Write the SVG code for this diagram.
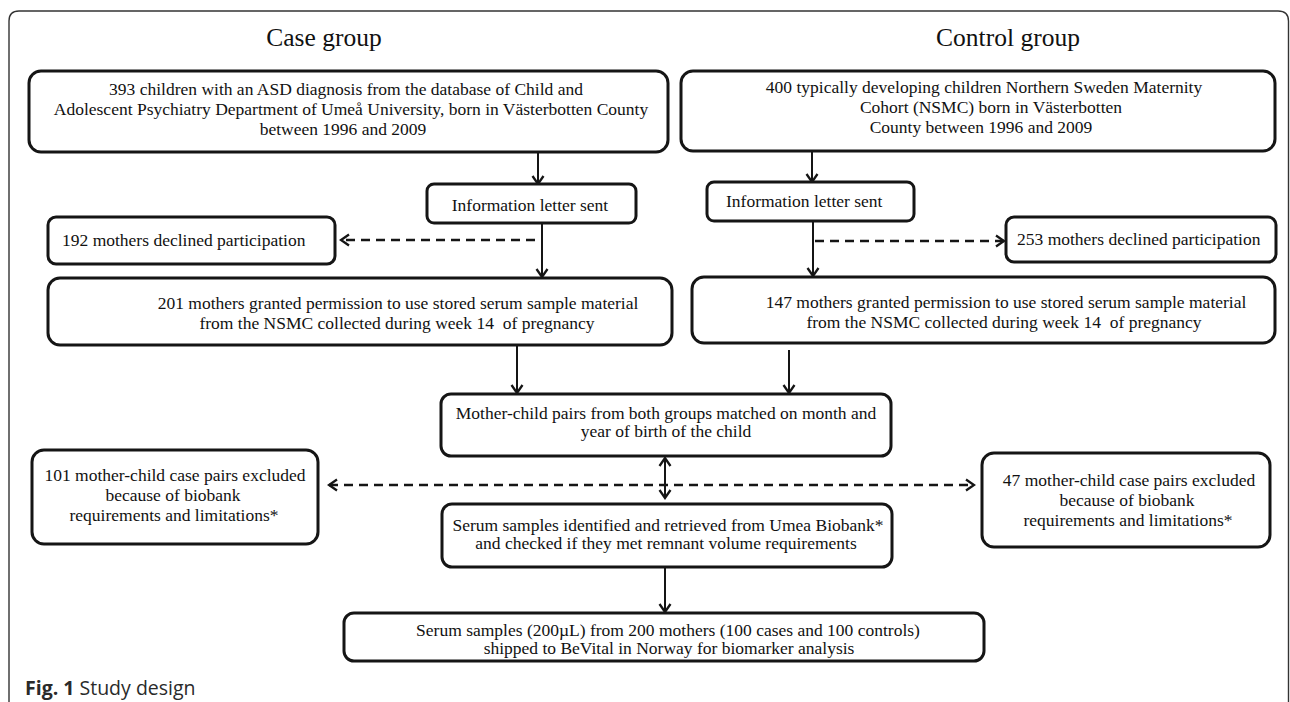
<svg xmlns="http://www.w3.org/2000/svg" width="1290" height="702" viewBox="0 0 1290 702">
<style>
.bx{fill:#fff;stroke:#151515;stroke-width:3}
.t{font-family:"Liberation Serif","Times New Roman",serif;font-size:17.5px;fill:#111}
.c{text-anchor:middle}
.h{font-family:"Liberation Serif","Times New Roman",serif;font-size:25.5px;fill:#111;text-anchor:middle}
.ln{stroke:#151515;stroke-width:2;fill:none}
.ds{stroke:#151515;stroke-width:2.5;fill:none;stroke-dasharray:9 6}
.cap{font-family:"Open Sans","Noto Sans",sans-serif;font-size:19.5px;fill:#2a2a2a}
</style>
<defs>
<marker id="ah" viewBox="-10 -7 12 14" markerWidth="12" markerHeight="14" markerUnits="userSpaceOnUse" orient="auto-start-reverse">
<path d="M-8,-5.5 L0,0 L-8,5.5" fill="none" stroke="#151515" stroke-width="2.3"/>
</marker>
</defs>
<rect width="1290" height="702" fill="#fff"/>
<path d="M9,702 L9,21 Q9,11 19,11 L1278,11 Q1288.5,11 1288.5,21 L1288.5,702" fill="none" stroke="#333" stroke-width="1.4"/>
<g id="titles">
<text class="h" x="324" y="46">Case group</text>
<text class="h" x="1008" y="46">Control group</text>
</g>
<g id="connectors">
<line class="ln" x1="538" y1="152" x2="538" y2="184" marker-end="url(#ah)"/>
<line class="ln" x1="542" y1="224" x2="542" y2="277" marker-end="url(#ah)"/>
<line class="ds" x1="535" y1="240" x2="341" y2="240" marker-end="url(#ah)"/>
<line class="ln" x1="812" y1="151" x2="812" y2="182" marker-end="url(#ah)"/>
<line class="ln" x1="813" y1="222" x2="813" y2="276" marker-end="url(#ah)"/>
<line class="ds" x1="815" y1="241" x2="1004" y2="241" marker-end="url(#ah)"/>
<line class="ln" x1="517" y1="346" x2="517" y2="393" marker-end="url(#ah)"/>
<line class="ln" x1="789" y1="350" x2="789" y2="393" marker-end="url(#ah)"/>
<line class="ds" x1="329" y1="485" x2="974" y2="485" marker-start="url(#ah)" marker-end="url(#ah)"/>
<line class="ln" x1="665" y1="458" x2="665" y2="498" marker-start="url(#ah)" marker-end="url(#ah)"/>
<line class="ln" x1="665" y1="568" x2="665" y2="612" marker-end="url(#ah)"/>
</g>
<g id="case-cohort">
<rect class="bx" x="29" y="71" width="639" height="81" rx="12"/>
<text class="t c" x="346" y="95">393 children with an ASD diagnosis from the database of Child and</text>
<text class="t c" x="351" y="115">Adolescent Psychiatry Department of Umeå University, born in Västerbotten County</text>
<text class="t c" x="343" y="135">between 1996 and 2009</text>
</g>
<g id="control-cohort">
<rect class="bx" x="681" y="71" width="594" height="80" rx="12"/>
<text class="t c" x="984" y="93">400 typically developing children Northern Sweden Maternity</text>
<text class="t c" x="991" y="113">Cohort (NSMC) born in Västerbotten</text>
<text class="t c" x="981" y="133">County between 1996 and 2009</text>
</g>
<g id="case-letter">
<rect class="bx" x="427" y="184" width="209" height="39" rx="7"/>
<text class="t c" x="530" y="211">Information letter sent</text>
</g>
<g id="control-letter">
<rect class="bx" x="707" y="182" width="207" height="39" rx="7"/>
<text class="t" x="726" y="207">Information letter sent</text>
</g>
<g id="case-declined">
<rect class="bx" x="48" y="217" width="287" height="47" rx="8"/>
<text class="t" x="62" y="246">192 mothers declined participation</text>
</g>
<g id="control-declined">
<rect class="bx" x="1006" y="217" width="270" height="45" rx="8"/>
<text class="t" x="1017" y="245">253 mothers declined participation</text>
</g>
<g id="case-granted">
<rect class="bx" x="48" y="278" width="624" height="67" rx="12"/>
<text class="t c" x="398" y="309">201 mothers granted permission to use stored serum sample material</text>
<text class="t c" x="397" y="329">from the NSMC collected during week 14&#160; of pregnancy</text>
</g>
<g id="control-granted">
<rect class="bx" x="692" y="277" width="583" height="66" rx="12"/>
<text class="t c" x="1006" y="308">147 mothers granted permission to use stored serum sample material</text>
<text class="t c" x="1004" y="328">from the NSMC collected during week 14&#160; of pregnancy</text>
</g>
<g id="matched">
<rect class="bx" x="441" y="394" width="450" height="62" rx="10"/>
<text class="t c" x="666" y="419">Mother-child pairs from both groups matched on month and</text>
<text class="t c" x="666" y="437">year of birth of the child</text>
</g>
<g id="case-excluded">
<rect class="bx" x="32" y="450" width="286" height="94" rx="12"/>
<text class="t c" x="175" y="481">101 mother-child case pairs excluded</text>
<text class="t c" x="173" y="501">because of biobank</text>
<text class="t c" x="174" y="521">requirements and limitations*</text>
</g>
<g id="control-excluded">
<rect class="bx" x="982" y="453" width="288" height="94" rx="12"/>
<text class="t c" x="1129" y="486">47 mother-child case pairs excluded</text>
<text class="t c" x="1127" y="506">because of biobank</text>
<text class="t c" x="1128" y="526">requirements and limitations*</text>
</g>
<g id="retrieved">
<rect class="bx" x="442" y="504" width="450" height="63" rx="10"/>
<text class="t c" x="668" y="531">Serum samples identified and retrieved from Umea Biobank*</text>
<text class="t c" x="666" y="549">and checked if they met remnant volume requirements</text>
</g>
<g id="shipped">
<rect class="bx" x="344" y="613" width="640" height="48" rx="10"/>
<text class="t c" x="668" y="636">Serum samples (200µL) from 200 mothers (100 cases and 100 controls)</text>
<text class="t c" x="669" y="654">shipped to BeVital in Norway for biomarker analysis</text>
</g>
<g id="caption">
<text class="cap" x="25" y="695"><tspan font-weight="bold">Fig. 1</tspan> Study design</text>
</g>
</svg>
